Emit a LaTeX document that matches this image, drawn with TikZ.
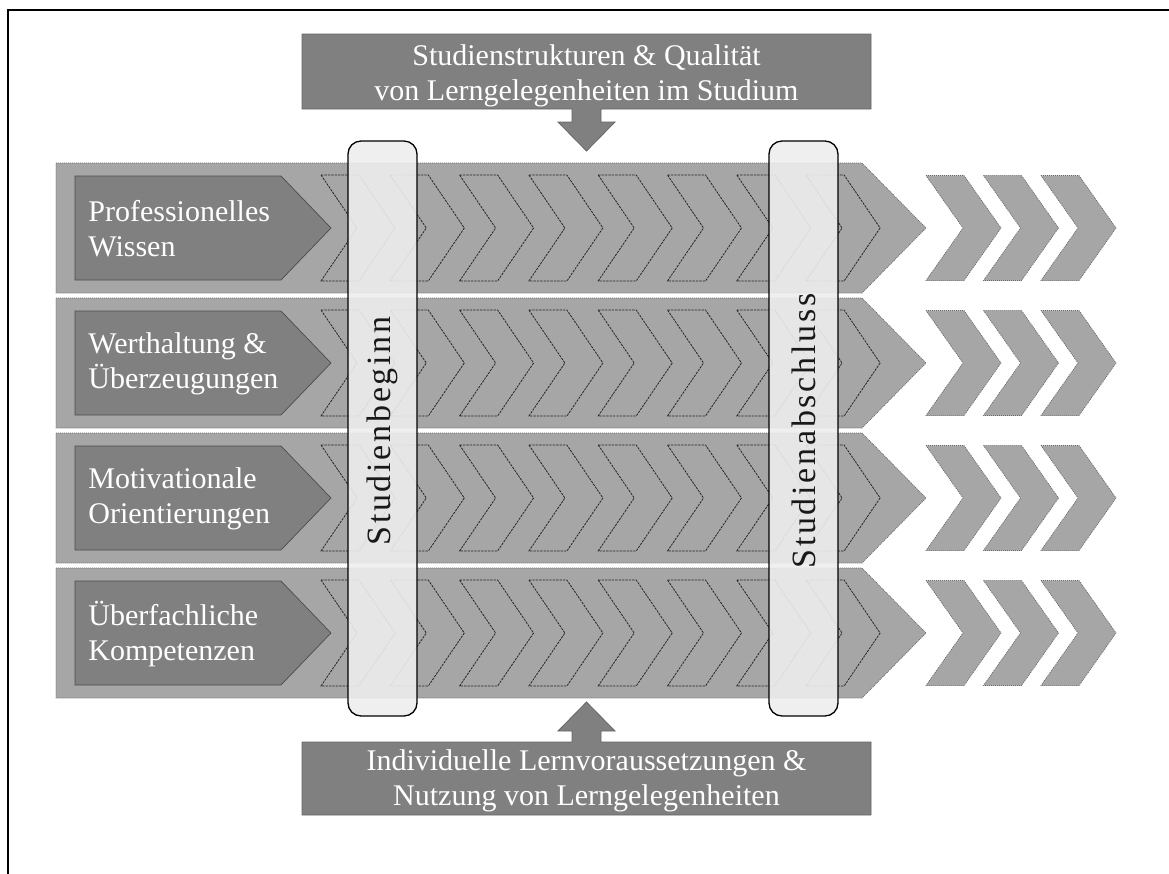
\documentclass[tikz,border=0pt]{standalone}
\usepackage{fontspec}
\setmainfont{Liberation Serif}
\newfontfamily\sperrfont[LetterSpace=8]{Liberation Serif}
\usetikzlibrary{positioning}

\definecolor{bandgrau}{gray}{0.65}
\definecolor{labelgrau}{gray}{0.5}
\definecolor{balkengrau}{gray}{0.93}

\begin{document}
\begin{tikzpicture}[x=0.5pt, y=-0.5pt,
    band/.style={fill=bandgrau, draw=black!60, dash pattern=on 0.5pt off 0.5pt, line width=0.35pt},
    chev/.style={draw=black!85, dash pattern=on 1.2pt off 0.5pt, line width=0.4pt},
    auschev/.style={fill=bandgrau, draw=black!60, dash pattern=on 0.5pt off 0.5pt, line width=0.35pt},
    kopf/.style={fill=labelgrau, draw=black!70, line width=0.35pt},
    kopftext/.style={anchor=west, inner sep=0pt, align=left, text=white, font=\fontsize{15}{17.5}\selectfont},
    pfeilbox/.style={fill=labelgrau, draw=black!60, line width=0.4pt},
    boxtext/.style={inner sep=0pt, align=center, text=white, font=\fontsize{15}{17.5}\selectfont},
    balken/.style={draw=black, line width=0.65pt, fill=balkengrau, fill opacity=0.9, rounded corners=6.5pt},
    balkentext/.style={rotate=90, inner sep=0pt, text=black!90, font=\fontsize{17}{20}\sperrfont}
  ]
  \useasboundingbox (0,0) rectangle (1169,874);
  \draw[line width=0.85pt] (8,874) -- (8,10) -- (1169,10);

  % vier Kompetenzbereiche
  \foreach \m/\eins/\zwei [count=\i] in {228/Professionelles/Wissen, 363/Werthaltung \&/Überzeugungen,
      498/Motivationale/Orientierungen, 633/Überfachliche/Kompetenzen} {
    \draw[band] (56,\m-65) -- (862,\m-65) -- (926,\m) -- (862,\m+65) -- (56,\m+65) -- cycle;
    \foreach \k [evaluate=\k as \x using 321+69.3*\k] in {0,...,7}
      \draw[chev] (\x,\m-53) -- ++(38,0) -- ++(36,53) -- ++(-36,53) -- ++(-38,0) -- ++(36,-53) -- cycle;
    \foreach \x in {926,983.5,1041}
      \draw[auschev] (\x,\m-52.5) -- ++(38,0) -- ++(37,52.5) -- ++(-37,52.5) -- ++(-38,0) -- ++(37,-52.5) -- cycle;
    \draw[kopf] (75,\m-52) -- (281,\m-52) -- (331,\m) -- (281,\m+52) -- (75,\m+52) -- cycle;
    \node[kopftext] (kopf\i) at (88,\m+1) {\eins\\\zwei};
  }

  % Studienbeginn und Studienabschluss
  \draw[balken] (348,141) rectangle (417,716);
  \node[balkentext] (beginn) at (382.5,431) {Studienbeginn};
  \draw[balken] (769,141) rectangle (838,716);
  \node[balkentext] (abschluss) at (803.5,431) {Studienabschluss};

  % Einflussfaktoren oben und unten
  \draw[pfeilbox] (302,34) -- (871,34) -- (871,109) -- (601,109) -- (601,122) -- (615,122)
    -- (586.5,151) -- (558,122) -- (572,122) -- (572,109) -- (302,109) -- cycle;
  \node[boxtext] (strukturen) at (586.5,75.5) {Studienstrukturen \& Qualität\\von Lerngelegenheiten im Studium};
  \draw[pfeilbox] (302,815) -- (871,815) -- (871,742) -- (601,742) -- (601,731) -- (615,731)
    -- (586.5,702) -- (558,731) -- (572,731) -- (572,742) -- (302,742) -- cycle;
  \node[boxtext] (voraussetzungen) at (586.5,780.5) {Individuelle Lernvoraussetzungen \&\\Nutzung von Lerngelegenheiten};
\end{tikzpicture}
\end{document}
